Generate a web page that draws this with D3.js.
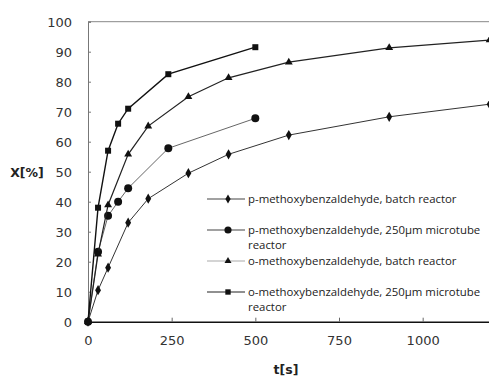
<!DOCTYPE html>
<html>
<head>
<meta charset="utf-8">
<script src="https://cdn.jsdelivr.net/npm/d3@7"></script>
<style>
  body { margin: 0; background: #fff; }
  svg { display: block; }
  .tick text { font-family: "DejaVu Sans", sans-serif; font-size: 13px; fill: #333; }
  .legend text { font-family: "Open Sans", sans-serif; font-size: 11.4px; fill: #222; }
</style>
</head>
<body>
<div id="chart"></div>
<script>

// conversion X[%] against time t[s]
var pBatchT   = [0, 30, 60, 120, 180, 300, 420, 600, 900, 1200];
var pBatchX   = [0, 10.5, 18, 33, 41, 49.5, 55.8, 62.2, 68.3, 72.5];
var pMicroT   = [0, 30, 60, 90, 120, 240, 500];
var pMicroX   = [0, 23.3, 35.3, 40, 44.5, 57.8, 67.8];
var oBatchT   = [0, 30, 60, 120, 180, 300, 420, 600, 900, 1200];
var oBatchX   = [0, 22.5, 38.9, 55.8, 65.2, 75, 81.3, 86.5, 91.3, 93.9];
var oMicroT   = [0, 30, 60, 90, 120, 240, 500];
var oMicroX   = [0, 38, 57, 66, 71, 82.5, 91.5];

var seriesNames = [
  ["p-methoxybenzaldehyde, batch reactor"],
  ["p-methoxybenzaldehyde, 250\u00b5m microtube", "reactor"],
  ["o-methoxybenzaldehyde, batch reactor"],
  ["o-methoxybenzaldehyde, 250\u00b5m microtube", "reactor"]
];
var xTicks = [0, 250, 500, 750, 1000];
var yTicks = [0, 10, 20, 30, 40, 50, 60, 70, 80, 90, 100];

var width = 489, height = 376;

var svg = d3.select("#chart").append("svg")
  .attr("width", width).attr("height", height);

var x = d3.scaleLinear().domain([0, 1200]).range([88, 489.6]);
var y = d3.scaleLinear().domain([0, 100]).range([321.7, 21.7]);

// top frame line
svg.append("line")
  .attr("x1", x(0)).attr("x2", width)
  .attr("y1", y(100)).attr("y2", y(100))
  .attr("stroke", "#888").attr("stroke-width", 1);

// y axis
var gy = svg.append("g")
  .attr("transform", "translate(" + x(0) + ",0)")
  .call(d3.axisLeft(y).tickValues(yTicks).tickSize(-3).tickPadding(16));
gy.select(".domain").attr("stroke", "#777");
gy.selectAll(".tick line").attr("stroke", "#777");
gy.selectAll(".tick text").attr("dy", "0.36em");

// x axis
var gx = svg.append("g")
  .attr("transform", "translate(0," + y(0) + ")")
  .call(d3.axisBottom(x).tickValues(xTicks).tickFormat(d3.format("d"))
    .tickSize(-4).tickPadding(14).tickSizeOuter(0));
gx.select(".domain").attr("stroke", "#111").attr("stroke-width", 1.4);
gx.selectAll(".tick line").attr("stroke", "#666");

// axis titles
svg.append("text")
  .attr("x", 27).attr("y", 177)
  .attr("text-anchor", "middle")
  .style("font-family", "DejaVu Sans, sans-serif")
  .style("font-weight", "bold").style("font-size", "12.5px")
  .attr("fill", "#222")
  .text("X[%]");

svg.append("text")
  .attr("x", 286).attr("y", 374)
  .attr("text-anchor", "middle")
  .style("font-family", "DejaVu Sans, sans-serif")
  .style("font-weight", "bold").style("font-size", "12.5px")
  .attr("fill", "#222")
  .text("t[s]");

var series = [
  { t: pBatchT, v: pBatchX, shape: d3.symbolDiamond, size: 30, color: "#333", w: 1, legendColor: "#444" },
  { t: pMicroT, v: pMicroX, shape: d3.symbolCircle,  size: 50, color: "#555", w: 0.9, legendColor: "#444" },
  { t: oBatchT, v: oBatchX, shape: d3.symbolTriangle, size: 27, color: "#222", w: 1.2, legendColor: "#aaa" },
  { t: oMicroT, v: oMicroX, shape: d3.symbolSquare,  size: 36, color: "#111", w: 1.4, legendColor: "#222" }
];

var line = d3.line()
  .x(function(d){ return x(d[0]); })
  .y(function(d){ return y(d[1]); });

var plot = svg.append("g");

series.forEach(function(s){
  var pts = s.t.map(function(t, i){ return [t, s.v[i]]; });
  plot.append("path")
    .datum(pts)
    .attr("d", line)
    .attr("fill", "none")
    .attr("stroke", s.color)
    .attr("stroke-width", s.w);
  plot.selectAll(null)
    .data(pts)
    .enter().append("path")
    .attr("transform", function(d){ return "translate(" + x(d[0]) + "," + y(d[1]) + ")"; })
    .attr("d", d3.symbol().type(s.shape).size(s.size))
    .attr("fill", "#111");
});

// legend
var legendY = [199, 230, 261, 292];
var legend = svg.append("g").attr("class", "legend");

series.forEach(function(s, i){
  var g = legend.append("g").attr("transform", "translate(0," + legendY[i] + ")");
  g.append("line")
    .attr("x1", 207).attr("x2", 245)
    .attr("y1", 0).attr("y2", 0)
    .attr("stroke", s.legendColor).attr("stroke-width", 1.2);
  g.append("path")
    .attr("transform", "translate(228,0)")
    .attr("d", d3.symbol().type(s.shape).size(s.size * 0.8))
    .attr("fill", "#111");
  seriesNames[i].forEach(function(txt, j){
    g.append("text")
      .attr("x", 248).attr("y", j * 15.5)
      .attr("dy", "0.35em")
      .text(txt);
  });
});

</script>
</body>
</html>
